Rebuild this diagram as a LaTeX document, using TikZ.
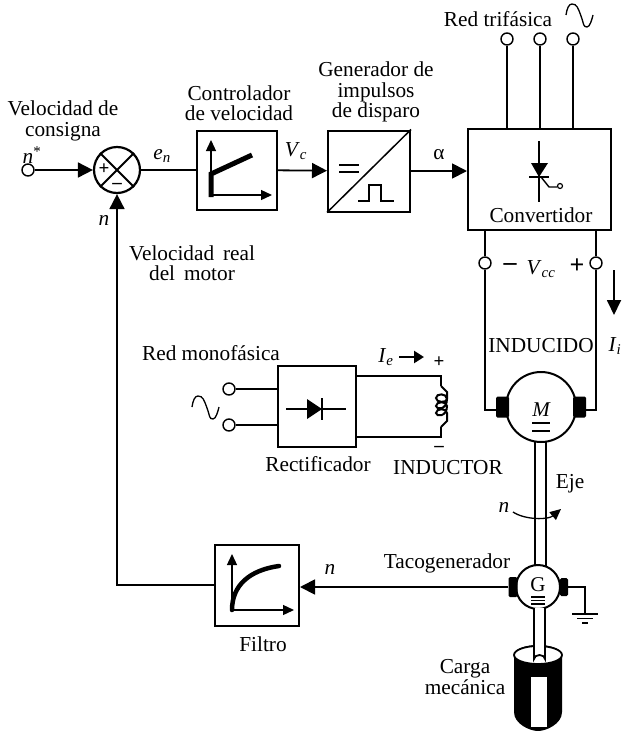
\documentclass[tikz,border=0pt]{standalone}
\usepackage{fontspec}
\setmainfont{Liberation Serif}
\usetikzlibrary{arrows.meta, positioning, calc}
\newcommand{\sinewave}[1]{\draw[line width=1.3pt] (#1) .. controls +(1,-7) and +(-3,0) .. ++(6,-11) .. controls +(5,0) and +(-3,-8) .. ++(9,12) .. controls +(3,8) and +(-4,0) .. ++(6,11) .. controls +(3,0) and +(-1,4) .. ++(6,-12);}
\newcommand{\subvar}[2]{\textit{#1}\textsubscript{\textit{#2}}}
\tikzset{
    blockbox/.style={rectangle, draw, line width=2pt, fill=white, inner sep=0pt},
    terminal/.style={circle, draw, line width=1.4pt, fill=white, inner sep=0pt, minimum size=12pt},
    wireline/.style={draw, line width=1.8pt},
    flowarrow/.style={wireline, -{Triangle[length=15pt, width=15pt]}},
    smallarrow/.style={draw, line width=1.3pt, -{Triangle[length=11pt, width=10pt]}},
    thickcurve/.style={draw, line width=4.5pt, line cap=round},
    brushbox/.style={rectangle, fill=black, rounded corners=1.5pt, inner sep=0pt},
    label/.style={font=\fontsize{21.3}{20.5}\selectfont, align=center, inner sep=0pt},
    signlabel/.style={font=\bfseries\fontsize{19}{19}\selectfont, inner sep=0pt}
}
\begin{document}
\begin{tikzpicture}[x=1pt, y=-1pt]
    \useasboundingbox (0,0) rectangle (623,731);

    % control chain
    \node[terminal] (ref) at (28,170) {};
    \node[circle, draw, line width=2.2pt, minimum size=46pt, inner sep=0pt] (sum) at (117,170) {};
    \node[blockbox, minimum width=80pt, minimum height=79pt] (ctrl) at (237,170) {};
    \node[blockbox, minimum width=82pt, minimum height=81pt] (gen) at (369,171) {};
    \node[blockbox, minimum width=143pt, minimum height=101pt] (conv) at (539.5,179.5) {};
    \node[blockbox, minimum width=84pt, minimum height=81pt] (filter) at (257,585) {};
    \draw[line width=2pt] (sum.45) -- (sum.225) (sum.135) -- (sum.315);
    \node[signlabel] at (104,169) {+};
    \node[signlabel] at (117,186) {--};

    \node[label] (reflabel) at (63,121) {Velocidad de\\consigna};
    \node[label] (refn) at (32,155) {\textit{n}\textsuperscript{*}};
    \node[label] (enlabel) at (162,156) {\subvar{e}{n}};
    \node[label] (vclabel) at (296,151) {\subvar{V}{c}};
    \node[label] (alabel) at (439,155) {α};
    \node[label] (ctrllabel) at (239,103) {Controlador\\de velocidad};
    \node[label] (genlabel) at (376,92) {Generador de\\impulsos\\de disparo};
    \node[label] (redlabel) at (498,19) {Red trifásica};
    \node[label] (nfeed) at (104,220) {\textit{n}};
    \node[label] (reallabel) at (192,263) {Velocidad\, real\\del\, motor};
    \node[label] (filterlabel) at (263,644) {Filtro};

    \draw[flowarrow] (ref) -- (sum);
    \draw[wireline] (sum) -- (ctrl);
    \draw[flowarrow] (ctrl) -- (gen);
    \draw[flowarrow] (gen.east) -- (conv.west |- gen.east);
    \draw[flowarrow] (filter.west) -- (117,585) -- (sum);

    % controller and filter glyphs
    \draw[smallarrow] (211,197) -- (211,140);
    \draw[smallarrow] (211,195) -- (272,195);
    \draw[line width=5pt] (211,197) -- (211,174) -- (252,155);
    \draw[smallarrow] (232,610) -- (232,554);
    \draw[smallarrow] (232,610) -- (294,610);
    \draw[thickcurve] (232,610) .. controls (232,585) and (250,570) .. (279,566);

    % pulse generator glyph
    \draw[line width=1.5pt] (gen.south west) -- (gen.north east);
    \draw[line width=2pt] (339,165) -- (359,165) (339,172) -- (359,172);
    \draw[line width=1.5pt] (358,201) -- (369,201) -- (369,185) -- (381,185) -- (381,201) -- (394,201);

    % converter
    \foreach \px/\pname in {507/a,540/b,573/c}{
        \node[terminal] (tri\pname) at (\px,39) {};
        \draw[wireline] (tri\pname) -- (\px,129);
    }
    \sinewave{566,15}
    \draw[line width=1.4pt] (539,141) -- (539,202);
    \fill (531,163) -- (548,163) -- (539,177) -- cycle;
    \draw[line width=1.4pt] (529,177) -- (549,177);
    \draw[line width=1.4pt] (541,177) -- (549,187) -- (557,187);
    \node[circle, draw, line width=1.2pt, fill=white, minimum size=5pt, inner sep=0pt] (gatept) at (560,186) {};
    \node[label] (convlabel) at (541,215) {Convertidor};

    % armature
    \node[terminal] (armL) at (485,263) {};
    \node[terminal] (armR) at (596,263) {};
    \node[circle, draw, line width=2pt, fill=white, minimum size=70pt, inner sep=0pt] (motor) at (541,407) {};
    \node[brushbox, minimum width=13pt, minimum height=21pt] (brushL) at (502.5,407) {};
    \node[brushbox, minimum width=13pt, minimum height=21pt] (brushR) at (579.5,407) {};
    \draw[wireline] (armL |- conv.south) -- (armL);
    \draw[wireline] (armR |- conv.south) -- (armR);
    \draw[wireline] (armL) -- (485,410) -- (brushL.west |- 0,410);
    \draw[wireline] (armR) -- (596,410) -- (brushR.east |- 0,410);
    \node[label] (vcc) at (541,269) {\subvar{V}{cc}};
    \node[font=\bfseries\fontsize{26}{26}\selectfont, inner sep=0pt] (minus) at (510,267) {--};
    \node[font=\bfseries\fontsize{26}{26}\selectfont, inner sep=0pt] (plus) at (577,266) {+};
    \node[label] (induc) at (541,346) {INDUCIDO};
    \node[label] (ii) at (615,346) {\subvar{I}{i}};
    \draw[line width=1.8pt, -{Triangle[length=15pt, width=14pt]}] (614,270) -- (614,315);
    \node[label, font=\itshape\fontsize{21}{23}\selectfont] (mlabel) at (541,410) {M};
    \draw[line width=1.5pt] (532,423) -- (550,423) (532,431) -- (550,431);

    % field winding
    \node[blockbox, minimum width=78pt, minimum height=81pt] (rect) at (317,406.5) {};
    \node[terminal] (monoA) at (229,389) {};
    \node[terminal] (monoB) at (229,425) {};
    \draw[wireline] (monoA) -- (rect.west |- monoA);
    \draw[wireline] (monoB) -- (rect.west |- monoB);
    \sinewave{192,407}
    \draw[line width=1.5pt] (286,409) -- (346,409);
    \fill (307,399) -- (322,409) -- (307,419) -- cycle;
    \draw[line width=1.8pt] (322,398) -- (322,420);
    \coordinate (coilT) at (441,376);
    \coordinate (coilB) at (441,437);
    \draw[wireline] (rect.east |- coilT) -- (coilT) -- (441,386);
    \draw[wireline] (rect.east |- coilB) -- (coilB) -- (441,427);
    \draw[line width=2pt] (441,386) -- (447,392) -- (447,399) .. controls (447,403) and (436,403) .. (436,398) .. controls (436,393) and (447,393) .. (447,399)
        .. controls (447,410) and (436,410) .. (436,406) .. controls (436,401) and (447,401) .. (447,406)
        .. controls (447,417) and (436,417) .. (436,413) .. controls (436,408) and (447,408) .. (447,413) -- (447,421) -- (441,427);
    \node[label] (monolabel) at (211,353) {Red monofásica};
    \node[label] (rectlabel) at (318,464) {Rectificador};
    \node[label] (inductor) at (448,468) {INDUCTOR};
    \node[label] (ielabel) at (386,357) {\subvar{I}{e}};
    \draw[line width=2.4pt, -{Triangle[length=10pt, width=12pt]}] (399,357) -- (424,357);
    \node[signlabel] at (439,362) {+};
    \node[signlabel] at (439,449) {--};

    % shaft, tacho and load
    \draw[line width=1.5pt] (535,442) -- (535,566);
    \draw[line width=1.5pt] (546,442) -- (546,566);
    \node[circle, draw, line width=2pt, fill=white, minimum size=44pt, inner sep=0pt] (tacho) at (538,587) {};
    \node[brushbox, minimum width=9pt, minimum height=20pt] (tachoL) at (513,587) {};
    \node[brushbox, minimum width=8pt, minimum height=18pt] (tachoR) at (564,587) {};
    \node[font=\fontsize{21}{21}\selectfont, inner sep=0pt] (glabel) at (538,585) {G};
    \draw[line width=1.5pt] (531,597) -- (545,597) (531,600.5) -- (545,600.5) (531,604) -- (545,604);
    \node[label] (ejelabel) at (570,484) {Eje};
    \node[label] (nshaft) at (504,507) {\textit{n}};
    \draw[smallarrow] (513,512) .. controls (525,520) and (548,520) .. (561,509);
    \node[label] (nfilter) at (330,569) {\textit{n}};
    \node[label] (tacholabel) at (447,563) {Tacogenerador};
    \node[label] (loadlabel) at (465,677) {Carga\\mecánica};

    \fill (514,655) arc[start angle=180, end angle=360, x radius=24, y radius=10] -- (562,712) .. controls (562,724) and (546,731) .. (538,731) .. controls (530,731) and (514,724) .. (514,712) -- cycle;
    \fill[white] (531,677) -- (547,677) -- (547,727) -- (531,727) -- cycle;
    \draw[line width=1.8pt, fill=white] (538,655) ellipse[x radius=24, y radius=9];
    \draw[line width=1.8pt, fill=white] (534,608) -- (534,659) arc[start angle=180, end angle=360, x radius=5.5, y radius=4] -- (545,608);

    \draw[flowarrow] (tachoL) -- (filter.east |- tachoL);
    \draw[line width=1.5pt] (tachoR) -- (585,587) -- (585,614) coordinate (gnd);
    \draw[line width=1.8pt] ($(gnd)+(-13,0)$) -- ++(26,0) ($(gnd)+(-8,4.5)$) -- ++(16,0) ($(gnd)+(-3,9)$) -- ++(6,0);
\end{tikzpicture}
\end{document}
